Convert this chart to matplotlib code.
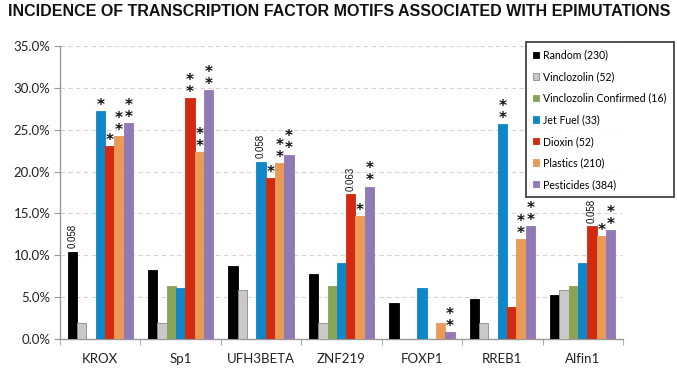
import matplotlib
matplotlib.use("Agg")
import matplotlib.pyplot as plt
import numpy as np

categories = ["KROX", "Sp1", "UFH3BETA", "ZNF219", "FOXP1", "RREB1", "Alfin1"]
series_names = ["Random (230)", "Vinclozolin (52)", "Vinclozolin Confirmed (16)",
                "Jet Fuel (33)", "Dioxin (52)", "Plastics (210)", "Pesticides (384)"]
random_vals = [10.4, 8.3, 8.7, 7.8, 4.3, 4.8, 5.2]
vinclozolin = [1.9, 1.9, 5.8, 1.9, 0.0, 1.9, 5.8]
vinclozolin_conf = [0.0, 6.3, 0.0, 6.3, 0.0, 0.0, 6.3]
jet_fuel = [27.2, 6.1, 21.2, 9.1, 6.1, 25.7, 9.1]
dioxin = [23.0, 28.8, 19.2, 17.3, 0.0, 3.8, 13.5]
plastics = [24.2, 22.3, 21.0, 14.7, 1.9, 11.9, 12.3]
pesticides = [25.8, 29.7, 22.0, 18.2, 0.8, 13.5, 13.0]
series = [random_vals, vinclozolin, vinclozolin_conf, jet_fuel, dioxin, plastics, pesticides]

# annotations: (category index, series index, text)
annotations = [
    (0, 0, "0.058"), (0, 3, "*"), (0, 4, "*"), (0, 5, "**"), (0, 6, "**"),
    (1, 4, "**"), (1, 5, "**"), (1, 6, "**"),
    (2, 3, "0.058"), (2, 4, "*"), (2, 5, "**"), (2, 6, "**"),
    (3, 4, "0.063"), (3, 5, "*"), (3, 6, "**"),
    (4, 6, "**"),
    (5, 3, "**"), (5, 5, "**"), (5, 6, "**"),
    (6, 4, "0.058"), (6, 5, "*"), (6, 6, "**"),
]

colors = ["#000000", "#c9c9c9", "#8aa356", "#0f86c8", "#d12a0e", "#e99a57", "#9179b5"]
edges = ["#000000", "#8a8a8a", "#8aa356", "#0f86c8", "#d12a0e", "#e99a57", "#9179b5"]

fig = plt.figure(figsize=(6.77, 3.71), dpi=100)
ax = fig.add_axes([60/677, 1-339/371, (623-60)/677, (339-46)/371])

x = np.arange(len(categories))
w = 0.116
n = len(series)
for i, vals in enumerate(series):
    ax.bar(x + (i - (n-1)/2) * w, vals, width=w, color=colors[i],
           edgecolor=edges[i], linewidth=0.6, label=series_names[i], zorder=3)

for ci, si, txt in annotations:
    xv = x[ci] + (si - (n-1)/2) * w
    yv = series[si][ci]
    if txt.startswith("0."):
        ax.annotate(txt, (xv, yv), xytext=(0, 2.5), textcoords="offset points",
                    rotation=90, ha="center", va="bottom", fontsize=7,
                    family="Liberation Sans", color="#111111")
    else:
        ax.annotate("\n".join(txt), (xv, yv), xytext=(0, -1.2), textcoords="offset points",
                    ha="center", va="bottom", fontsize=11, linespacing=0.75,
                    family="DejaVu Sans", fontweight="bold", color="#111111")

ax.set_xlim(-0.5, len(categories) - 0.5)
ax.set_ylim(0, 35)
ax.set_yticks(np.arange(0, 35.1, 5))
ax.set_yticklabels([f"{v:.1f}%" for v in np.arange(0, 35.1, 5)], family="Lato", fontsize=9.5,
                   color="#222222")
ax.set_xticks(x)
ax.set_xticklabels(categories, family="Lato", fontsize=9.5, color="#222222")
ax.set_xticks(np.arange(-0.5, len(categories), 1), minor=True)
ax.tick_params(axis="x", which="major", length=0, pad=10)
ax.tick_params(axis="x", which="minor", length=4, color="#999999", direction="out")
ax.tick_params(axis="y", length=4, color="#999999", direction="out", pad=3)

for s in ["top", "right"]:
    ax.spines[s].set_visible(False)
for s in ["left", "bottom"]:
    ax.spines[s].set_color("#999999")
    ax.spines[s].set_linewidth(1.0)

ax.yaxis.grid(True, linestyle=(0, (4, 3)), color="#d4d4d4", linewidth=0.8, zorder=0)
ax.set_axisbelow(True)

leg = ax.legend(loc="upper left", bbox_to_anchor=((526-60)/(623-60), 1.013),
                prop={"family": "Lato", "size": 7.6}, frameon=True, fancybox=False,
                handlelength=0.55, handleheight=0.55, handletextpad=0.35, labelspacing=1.0,
                borderpad=0.7, borderaxespad=0)
leg.get_frame().set_edgecolor("#000000")
leg.get_frame().set_linewidth(1.2)
leg.set_zorder(5)

fig.text(0.012, 1-12/371, "INCIDENCE OF TRANSCRIPTION FACTOR MOTIFS ASSOCIATED WITH EPIMUTATIONS",
         family="Liberation Sans", fontweight="bold", fontsize=11.5, va="center", ha="left",
         color="#111111")

fig.savefig("out.png", dpi=100)
